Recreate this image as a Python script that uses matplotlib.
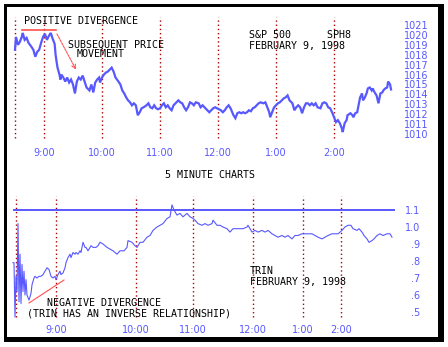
import matplotlib
matplotlib.use("Agg")
import matplotlib.pyplot as plt
from matplotlib.patches import Rectangle

# ---------------- data ----------------
# S&P 500 March futures (SPH8), minutes after 8:30 and price
sp_minutes = [0, 1, 3, 5, 7, 8, 10, 12, 14, 17, 19, 21, 23, 25, 27, 29, 31, 33, 35, 37,
              39, 41, 42, 43, 44, 46, 47, 48, 50, 52, 54, 56, 58, 60, 62, 64, 66, 68, 70, 72,
              74, 77, 79, 81, 83, 85, 87, 88, 90, 92, 94, 96, 98, 100, 102, 104, 107, 109, 111, 113,
              115, 117, 119, 121, 123, 125, 127, 129, 131, 133, 136, 138, 140, 142, 144, 146, 148, 150, 152, 154,
              156, 158, 160, 162, 164, 167, 169, 171, 173, 175, 177, 179, 181, 183, 185, 187, 190, 192, 194, 197,
              199, 201, 203, 205, 207, 209, 211, 213, 215, 217, 219, 221, 223, 226, 228, 230, 232, 234, 236, 238,
              240, 242, 244, 246, 248, 250, 252, 254, 257, 259, 261, 263, 264, 266, 268, 270, 272, 274, 276, 278,
              280, 282, 284, 287, 289, 291, 293, 295, 297, 299, 301, 303, 305, 307, 309, 311, 313, 316, 318, 320,
              322, 324, 326, 328, 330, 332, 334, 336, 338, 339, 341, 343, 344, 347, 349, 350, 352, 354, 355, 357,
              359, 360, 362, 364, 365, 367, 369, 370, 372, 374, 376, 378, 380, 381, 383, 385, 386, 388, 389]
sp_price = [1018.5, 1019.8, 1019.0, 1019.3, 1019.8, 1020.2, 1019.5, 1019.7, 1019.2, 1018.8,
            1018.5, 1017.8, 1018.3, 1018.5, 1019.2, 1019.8, 1020.1, 1019.5, 1019.9, 1020.2,
            1019.6, 1019.1, 1018.0, 1017.3, 1016.7, 1016.0, 1015.5, 1016.0, 1015.7, 1015.3,
            1015.7, 1015.2, 1015.5, 1015.0, 1014.1, 1015.3, 1015.7, 1015.5, 1015.9, 1015.3,
            1014.7, 1014.4, 1015.0, 1014.2, 1015.2, 1015.5, 1015.7, 1015.2, 1015.7, 1016.0,
            1016.2, 1016.3, 1016.5, 1016.7, 1016.3, 1015.7, 1015.3, 1015.0, 1014.4, 1014.1,
            1013.7, 1013.4, 1013.2, 1012.9, 1013.1, 1012.9, 1011.9, 1012.2, 1012.6, 1012.7,
            1012.9, 1013.1, 1012.7, 1012.6, 1012.9, 1012.6, 1012.5, 1012.6, 1012.9, 1013.1,
            1012.7, 1012.9, 1012.6, 1012.4, 1012.9, 1013.2, 1013.4, 1013.2, 1013.1, 1012.7,
            1012.4, 1012.7, 1013.2, 1013.1, 1012.9, 1013.2, 1013.1, 1012.7, 1012.9, 1012.6,
            1012.4, 1012.2, 1012.4, 1012.6, 1012.7, 1012.6, 1012.5, 1012.4, 1012.2, 1012.4,
            1012.7, 1012.9, 1012.6, 1011.9, 1011.6, 1012.1, 1012.2, 1012.1, 1012.2, 1012.1,
            1012.2, 1012.4, 1012.3, 1012.6, 1012.7, 1012.9, 1013.1, 1013.2, 1013.1, 1013.2,
            1012.7, 1012.2, 1011.7, 1012.2, 1012.7, 1012.9, 1013.1, 1013.2, 1013.4, 1013.6,
            1013.7, 1013.9, 1013.4, 1013.1, 1012.4, 1012.7, 1012.9, 1012.7, 1012.1, 1012.7,
            1013.1, 1013.1, 1012.9, 1013.1, 1012.9, 1013.1, 1012.7, 1012.6, 1013.1, 1013.2,
            1013.1, 1012.7, 1012.6, 1012.2, 1011.7, 1011.2, 1011.4, 1011.1, 1010.6, 1010.2,
            1011.1, 1011.4, 1011.9, 1012.1, 1011.9, 1011.7, 1012.1, 1012.2, 1012.7, 1013.7,
            1014.1, 1013.4, 1013.7, 1014.2, 1014.6, 1014.7, 1014.4, 1014.6, 1014.2, 1013.9,
            1013.1, 1014.1, 1014.2, 1014.4, 1014.6, 1014.7, 1015.3, 1015.0, 1014.5]
sp_hour_minutes = [30, 90, 150, 210, 270, 330]
sp_grid_minutes = [0, 30, 90, 150, 210, 270, 330]
hour_labels = ["9:00", "10:00", "11:00", "12:00", "1:00", "2:00"]
sp_ticks = list(range(1010, 1022))

# TRIN, plotted per bar (non-uniform time axis)
trin_bar = [0, 1, 2, 3, 4, 5, 6, 7, 8, 9, 10, 11, 12, 13, 14, 16, 18, 19, 21, 22,
            24, 26, 28, 30, 32, 34, 36, 38, 40, 42, 43, 45, 47, 48, 50, 52, 53, 55, 57, 58,
            60, 62, 63, 65, 67, 68, 70, 72, 73, 75, 77, 78, 80, 82, 83, 85, 87, 90, 94, 97,
            100, 104, 107, 111, 114, 115, 119, 122, 124, 127, 130, 134, 137, 140, 144, 147, 150, 154, 157, 159,
            161, 164, 167, 170, 174, 177, 180, 182, 185, 189, 192, 195, 199, 200, 204, 207, 210, 214, 217, 220,
            224, 227, 230, 234, 235, 239, 242, 245, 249, 252, 255, 259, 262, 265, 269, 272, 275, 279, 282, 285,
            289, 292, 295, 299, 302, 305, 309, 312, 315, 319, 322, 325, 329, 332, 335, 338, 340, 344, 346, 349,
            351, 354, 356, 359, 361, 364, 367, 370, 374, 377, 379]
trin_value = [0.79, 0.79, 0.47, 0.71, 0.62, 1.02, 0.56, 0.84, 0.55, 0.78, 0.62, 0.74, 0.60, 0.69, 0.60,
              0.57, 0.61, 0.66, 0.70, 0.71, 0.70, 0.71, 0.71, 0.72, 0.74, 0.76, 0.75, 0.71, 0.70, 0.71,
              0.69, 0.72, 0.74, 0.72, 0.73, 0.76, 0.79, 0.82, 0.84, 0.82, 0.85, 0.84, 0.85, 0.84, 0.86,
              0.85, 0.91, 0.88, 0.88, 0.86, 0.88, 0.89, 0.88, 0.88, 0.88, 0.89, 0.91, 0.90, 0.88, 0.87,
              0.86, 0.84, 0.86, 0.86, 0.88, 0.92, 0.91, 0.89, 0.88, 0.91, 0.91, 0.94, 0.95, 0.98, 1.00,
              1.01, 1.02, 1.05, 1.06, 1.13, 1.10, 1.07, 1.08, 1.06, 1.08, 1.06, 1.05, 1.04, 1.02, 1.01,
              1.02, 1.01, 1.02, 1.04, 1.01, 1.01, 1.00, 0.99, 0.97, 0.99, 0.99, 0.99, 0.99, 1.00, 1.01,
              0.97, 0.98, 0.97, 0.98, 0.97, 0.98, 0.96, 0.95, 0.94, 0.95, 0.94, 0.95, 0.93, 0.95, 0.95,
              0.96, 0.96, 0.96, 0.96, 0.95, 0.94, 0.93, 0.94, 0.95, 0.96, 0.96, 0.96, 0.98, 1.00, 1.01,
              1.01, 0.99, 0.98, 0.99, 0.97, 0.95, 0.93, 0.91, 0.92, 0.93, 0.95, 0.96, 0.95, 0.96, 0.96,
              0.94]
trin_hour_bars = [43, 123, 180, 240, 290, 328]
trin_grid_bars = [3, 43, 123, 180, 240, 290, 328]
trin_ticks = [1.1, 1.0, 0.9, 0.8, 0.7, 0.6, 0.5]
trin_tick_labels = ["1.1", "1.0", ".9", ".8", ".7", ".6", ".5"]
trin_ref = 1.1

# ---------------- style ----------------
W, H = 448, 347
BLUE = "#5858ff"
GRID = "#b00000"
RED = "#ff5050"
MONO = "DejaVu Sans Mono"

fig = plt.figure(figsize=(W / 100, H / 100), dpi=100)
fig.patch.set_facecolor("white")

def frac(x, y):
    return x / W, 1 - y / H

# frame
fig.patches.append(Rectangle(frac(4, 342), 440 / W, 338 / H, transform=fig.transFigure,
                             facecolor="black", edgecolor="none", zorder=-10))
fig.patches.append(Rectangle(frac(7, 337), 431 / W, 330 / H, transform=fig.transFigure,
                             facecolor="white", edgecolor="none", zorder=-9))

def style_axes(ax):
    ax.patch.set_alpha(0)
    for s in ax.spines.values():
        s.set_visible(False)
    ax.yaxis.tick_right()
    ax.tick_params(length=0, colors=BLUE, labelsize=7)

# ---- top chart ----
ax1 = fig.add_axes([10 / W, 1 - 140 / H, 385 / W, 125 / H])
style_axes(ax1)
ax1.set_xlim(-5.17, 393.1)
ax1.set_ylim(1009.40, 1022.01)
for m in sp_grid_minutes:
    ax1.axvline(m, ymin=0.014, ymax=0.982, color=GRID, lw=1.0, ls=(0, (1, 2)))
ax1.plot(sp_minutes, sp_price, color=BLUE, lw=1.6, solid_joinstyle="miter")
ax1.set_xticks(sp_hour_minutes, hour_labels)
ax1.set_yticks(sp_ticks, [str(v) for v in sp_ticks])
ax1.tick_params(axis="x", pad=6)
ax1.tick_params(axis="y", pad=6.5)
# annotations
ax1.plot([7.2, 42.4], [1020.5, 1020.5], color=RED, lw=1.2)
ax1.annotate("", xy=(63.1, 1016.5), xytext=(43.4, 1020.1),
             arrowprops=dict(arrowstyle="->", color=RED, lw=0.8, shrinkA=0, shrinkB=0,
                             mutation_scale=7, linestyle=(0, (2, 1))))

# ---- bottom chart ----
ax2 = fig.add_axes([10 / W, 1 - 320 / H, 385 / W, 126 / H])
style_axes(ax2)
ax2.set_xlim(-3, 382)
ax2.set_ylim(0.4529, 1.1941)
for b in trin_grid_bars:
    ax2.axvline(b, ymin=0.026, ymax=0.984, color=GRID, lw=1.0, ls=(0, (1, 2)))
ax2.hlines(trin_ref, 0, 382, color=BLUE, lw=1.4)
ax2.plot(trin_bar, trin_value, color=BLUE, lw=0.8)
ax2.set_xticks(trin_hour_bars, hour_labels)
ax2.set_yticks(trin_ticks, trin_tick_labels)
for lab in ax2.get_yticklabels():
    lab.set_horizontalalignment("right")
ax2.tick_params(axis="x", pad=3.6)
ax2.tick_params(axis="y", pad=18.4)
ax2.plot([16, 51], [0.553, 0.688], color=RED, lw=0.8)

# ---- text ----
def label(x, y, s):
    fx, fy = frac(x, y)
    fig.text(fx, fy, s, family=MONO, fontsize=7.2, color="black", va="baseline", ha="left")

label(24, 24.5, "POSITIVE DIVERGENCE")
label(68, 47.5, "SUBSEQUENT PRICE")
label(77, 57, "MOVEMENT")
label(249, 37.5, "S&P 500      SPH8")
label(249, 49.5, "FEBRUARY 9, 1998")
label(165, 178.5, "5 MINUTE CHARTS")
label(250, 273.5, "TRIN")
label(250, 284.5, "FEBRUARY 9, 1998")
label(47, 305.5, "NEGATIVE DIVERGENCE")
label(27, 316.5, "(TRIN HAS AN INVERSE RELATIONSHIP)")

fig.savefig("out.png", dpi=100)
